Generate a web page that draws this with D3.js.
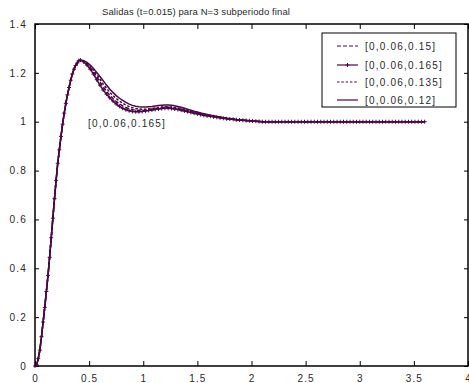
<!DOCTYPE html>
<html>
<head>
<meta charset="utf-8">
<script src="https://cdn.jsdelivr.net/npm/d3@7"></script>
<style>
    body { margin: 0; background: white; }
    svg { display: block; }
    text { font-family: Arial, "Liberation Sans", sans-serif; fill: #2a2a2a; }
</style>
</head>
<body>
<div id="chart"></div>
<script>
// tiempo (s), muestreo t=0.015 en la subida y 0.03 despues
const tiempo = [0,0.015,0.03,0.045,0.06,0.075,0.09,0.105,0.12,0.135,0.15,0.165,0.18,0.195,0.21,0.225,0.24,0.255,0.27,0.285,0.3,0.315,0.33,0.345,0.36,0.375,0.39,0.405,0.42,
    0.45,0.48,0.51,0.54,0.57,0.6,0.63,0.66,0.69,0.72,0.75,0.78,0.81,0.84,0.87,0.9,0.93,0.96,0.99,
    1.02,1.05,1.08,1.11,1.14,1.17,1.2,1.23,1.26,1.29,1.32,1.35,1.38,1.41,1.44,1.47,1.5,1.53,1.56,1.59,1.62,1.65,1.68,1.71,1.74,1.77,1.8,1.83,1.86,1.89,1.92,1.95,1.98,
    2.01,2.04,2.07,2.1,2.13,2.16,2.19,2.22,2.25,2.28,2.31,2.34,2.37,2.4,2.43,2.46,2.49,2.52,2.55,2.58,2.61,2.64,2.67,2.7,2.73,2.76,2.79,2.82,2.85,2.88,2.91,2.94,2.97,
    3,3.03,3.06,3.09,3.12,3.15,3.18,3.21,3.24,3.27,3.3,3.33,3.36,3.39,3.42,3.45,3.48,3.51,3.54,3.57,3.6];

const salida015 = [0,0.005,0.03,0.065,0.12,0.18,0.24,0.305,0.37,0.445,0.525,0.605,0.685,0.76,0.83,0.885,0.94,0.99,1.035,1.075,1.11,1.14,1.17,1.195,1.215,1.23,1.24,1.25,1.252,
    1.247,1.236,1.222,1.204,1.184,1.163,1.143,1.125,1.109,1.095,1.083,1.073,1.065,1.058,1.053,1.049,1.047,1.046,1.046,
    1.047,1.049,1.051,1.053,1.055,1.057,1.058,1.058,1.057,1.055,1.053,1.05,1.047,1.044,1.041,1.038,1.035,1.031,1.028,1.026,1.024,1.021,1.019,1.017,1.015,1.013,1.011,1.01,1.008,1.007,1.006,1.005,1.004,
    1.003,1.002,1.001,1,1,1,1,1,1,1,1,1,1,1,1,1,1,1,1,1,1,1,1,1,1,1,1,1,1,1,1,1,1,
    1,1,1,1,1,1,1,1,1,1,1,1,1,1,1,1,1,1,1,1,1];

const salida0165 = [0,0.005,0.03,0.065,0.12,0.18,0.24,0.305,0.37,0.445,0.525,0.605,0.685,0.76,0.83,0.885,0.94,0.99,1.035,1.075,1.11,1.14,1.17,1.195,1.215,1.23,1.24,1.25,1.252,
    1.245,1.232,1.215,1.195,1.172,1.15,1.13,1.113,1.098,1.085,1.073,1.063,1.055,1.049,1.045,1.042,1.041,1.041,1.042,
    1.044,1.046,1.048,1.05,1.052,1.054,1.055,1.055,1.054,1.052,1.05,1.047,1.044,1.041,1.038,1.035,1.032,1.029,1.026,1.024,1.022,1.02,1.018,1.016,1.014,1.012,1.011,1.01,1.008,1.007,1.006,1.005,1.004,
    1.003,1.002,1.001,1,1,1,1,1,1,1,1,1,1,1,1,1,1,1,1,1,1,1,1,1,1,1,1,1,1,1,1,1,1,
    1,1,1,1,1,1,1,1,1,1,1,1,1,1,1,1,1,1,1,1,1];

const salida0135 = [0,0.005,0.03,0.065,0.12,0.18,0.24,0.305,0.37,0.445,0.525,0.605,0.685,0.76,0.83,0.885,0.94,0.99,1.035,1.075,1.11,1.14,1.17,1.195,1.215,1.23,1.24,1.25,1.252,
    1.248,1.24,1.227,1.211,1.193,1.174,1.155,1.137,1.121,1.107,1.095,1.084,1.076,1.068,1.062,1.057,1.054,1.052,1.051,
    1.051,1.052,1.054,1.056,1.058,1.06,1.061,1.061,1.06,1.058,1.056,1.053,1.05,1.047,1.044,1.041,1.037,1.034,1.031,1.028,1.025,1.023,1.02,1.018,1.016,1.014,1.012,1.01,1.008,1.007,1.006,1.005,1.004,
    1.003,1.002,1.001,1,1,1,1,1,1,1,1,1,1,1,1,1,1,1,1,1,1,1,1,1,1,1,1,1,1,1,1,1,1,
    1,1,1,1,1,1,1,1,1,1,1,1,1,1,1,1,1,1,1,1,1];

const salida012 = [0,0.005,0.03,0.065,0.12,0.18,0.24,0.305,0.37,0.445,0.525,0.605,0.685,0.76,0.83,0.885,0.94,0.99,1.035,1.075,1.11,1.14,1.17,1.195,1.215,1.23,1.24,1.25,1.252,
    1.25,1.243,1.232,1.218,1.202,1.185,1.168,1.15,1.134,1.12,1.107,1.096,1.087,1.079,1.072,1.067,1.063,1.061,1.06,
    1.06,1.061,1.062,1.064,1.066,1.067,1.068,1.068,1.067,1.065,1.062,1.059,1.055,1.051,1.047,1.043,1.04,1.036,1.033,1.03,1.027,1.024,1.021,1.019,1.016,1.014,1.012,1.01,1.008,1.007,1.006,1.005,1.004,
    1.003,1.002,1.001,1,1,1,1,1,1,1,1,1,1,1,1,1,1,1,1,1,1,1,1,1,1,1,1,1,1,1,1,1,1,
    1,1,1,1,1,1,1,1,1,1,1,1,1,1,1,1,1,1,1,1,1];

const etiquetas = ['[0,0.06,0.15]', '[0,0.06,0.165]', '[0,0.06,0.135]', '[0,0.06,0.12]'];
const xTicks = [0, 0.5, 1, 1.5, 2, 2.5, 3, 3.5, 4];
const yTicks = [0, 0.2, 0.4, 0.6, 0.8, 1, 1.2, 1.4];

const series = [
    {nombre: etiquetas[0], valores: salida015, dash: '4,2', marca: false},
    {nombre: etiquetas[1], valores: salida0165, dash: null, marca: true},
    {nombre: etiquetas[2], valores: salida0135, dash: '2.5,1.8', marca: false},
    {nombre: etiquetas[3], valores: salida012, dash: null, marca: false}
];

const width = 469, height = 383;
const margin = {left: 35, right: 468, top: 24, bottom: 366};
const color = '#4a0844';

const svg = d3.select('#chart')
    .append('svg')
        .attr('width', width)
        .attr('height', height);

const x = d3.scaleLinear().domain([0, 4]).range([margin.left, margin.right]);
const y = d3.scaleLinear().domain([0, 1.4]).range([margin.bottom, margin.top]);

// Title
svg.append('text')
    .attr('x', 196)
    .attr('y', 15)
    .attr('text-anchor', 'middle')
    .style('font-size', '9.5px')
    .style('letter-spacing', '0.1px')
    .text('Salidas (t=0.015) para N=3 subperiodo final');

// Axes, MATLAB style ticks inside on every side
const tickStyle = g => {
    g.select('.domain').remove();
    g.selectAll('.tick line').attr('stroke', '#000');
    g.selectAll('.tick text')
        .style('font-size', '10px')
        .style('letter-spacing', '1.2px')
        .attr('fill', '#2a2a2a');
};

svg.append('g')
    .attr('transform', `translate(0,${margin.bottom})`)
    .call(d3.axisBottom(x).tickValues(xTicks).tickFormat(d3.format('')).tickSizeInner(-5).tickPadding(9))
    .call(tickStyle);

svg.append('g')
    .attr('transform', `translate(0,${margin.top})`)
    .call(d3.axisTop(x).tickValues(xTicks).tickSizeInner(-5).tickFormat(''))
    .call(tickStyle);

svg.append('g')
    .attr('transform', `translate(${margin.left},0)`)
    .call(d3.axisLeft(y).tickValues(yTicks).tickFormat(d3.format('')).tickSizeInner(-4).tickPadding(8))
    .call(tickStyle);

svg.append('g')
    .attr('transform', `translate(${margin.right},0)`)
    .call(d3.axisRight(y).tickValues(yTicks).tickSizeInner(-4).tickFormat(''))
    .call(tickStyle);

svg.append('rect')
    .attr('x', margin.left)
    .attr('y', margin.top)
    .attr('width', margin.right - margin.left)
    .attr('height', margin.bottom - margin.top)
    .attr('fill', 'none')
    .attr('stroke', '#000')
    .attr('stroke-width', 1.5);

// Curves
const line = d3.line()
    .x((d, i) => x(tiempo[i]))
    .y(d => y(d));

const graph = svg.append('g');

series.forEach(s => {
    graph.append('path')
        .attr('d', line(s.valores))
        .attr('fill', 'none')
        .attr('stroke', color)
        .attr('stroke-width', 1.5)
        .attr('stroke-dasharray', s.dash);
    if(s.marca){
        graph.selectAll('marcas')
            .data(s.valores)
            .enter()
            .append('path')
                .attr('transform', (d, i) => `translate(${x(tiempo[i])},${y(d)})`)
                .attr('d', 'M-2,0H2M0,-2V2')
                .attr('stroke', color)
                .attr('stroke-width', 1);
    }
});

// Annotation
svg.append('text')
    .attr('x', 88)
    .attr('y', 127)
    .style('font-size', '10px')
    .style('letter-spacing', '1.2px')
    .text(etiquetas[1]);

// Legend
const legend = svg.append('g')
    .attr('transform', 'translate(322,33)');

legend.append('rect')
    .attr('width', 134)
    .attr('height', 74)
    .attr('fill', 'white')
    .attr('stroke', '#000')
    .attr('stroke-width', 1);

const rowY = [13, 32, 49, 67];

series.forEach((s, i) => {
    legend.append('line')
        .attr('x1', 15)
        .attr('x2', 36)
        .attr('y1', rowY[i])
        .attr('y2', rowY[i])
        .attr('stroke', color)
        .attr('stroke-width', 1.2)
        .attr('stroke-dasharray', s.dash);
    if(s.marca){
        legend.append('path')
            .attr('transform', `translate(25.5,${rowY[i]})`)
            .attr('d', 'M-2,0H2M0,-2V2')
            .attr('stroke', color);
    }
    legend.append('text')
        .attr('x', 43)
        .attr('y', rowY[i] + 3.5)
        .style('font-size', '10px')
        .style('letter-spacing', '1.2px')
        .text(s.nombre);
});
</script>
</body>
</html>
